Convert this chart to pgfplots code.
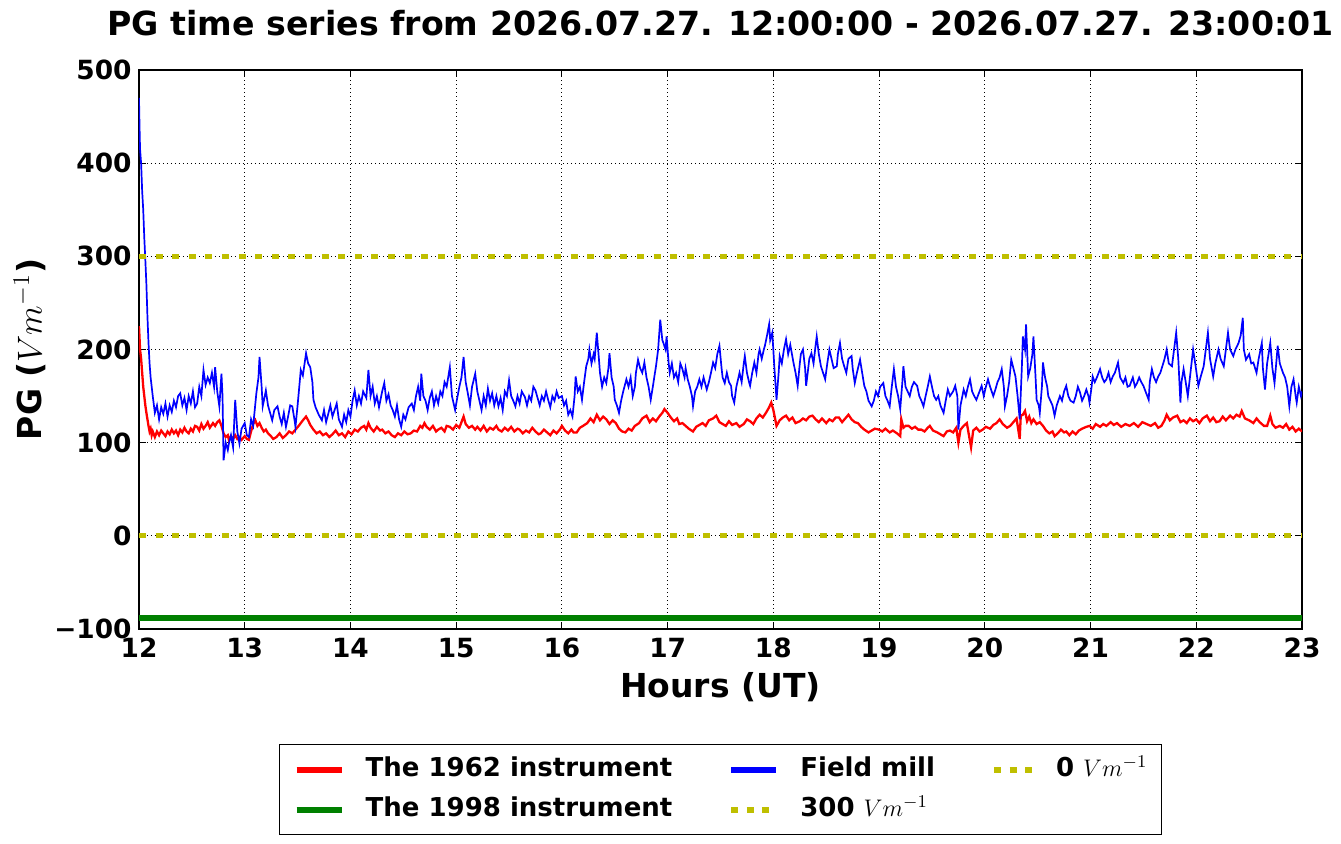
\documentclass[border=0pt]{standalone}
\usepackage{fontspec}
\setmainfont{DejaVu Sans}
\usepackage{pgfplots}
\usepackage{pgfplotstable}
\pgfplotsset{compat=1.18}
\definecolor{mplred}{RGB}{255,0,0}
\definecolor{mplblue}{RGB}{0,0,255}
\definecolor{mplgreen}{RGB}{0,128,0}
\definecolor{mplyellow}{RGB}{191,191,0}
\pgfplotsset{
  long legend/.style={legend image code/.code={\draw[##1] (0pt,0pt) -- (22.5pt,0pt);}},
  short legend/.style={legend image code/.code={\draw[##1] (0pt,0pt) -- (19pt,0pt);}},
}

\pgfplotstableread{
h v
12.00 470
12.005 440
12.01 415
12.02 400
12.03 370
12.04 350
12.05 320
12.06 296
12.07 270
12.08 235
12.09 207
12.10 185
12.11 170
12.13 150
12.15 132
12.17 140
12.19 125
12.21 138
12.23 131
12.25 142
12.27 128
12.29 140
12.31 133
12.33 145
12.35 138
12.37 150
12.39 153
12.41 140
12.43 148
12.45 135
12.47 150
12.49 142
12.51 155
12.53 138
12.55 142
12.57 160
12.59 150
12.61 178
12.63 162
12.65 170
12.67 164
12.69 175
12.71 160
12.72 181
12.74 155
12.76 139
12.78 174
12.79 150
12.80 81
12.82 100
12.84 92
12.85 99
12.87 108
12.89 95
12.91 146
12.93 112
12.95 99
12.97 115
13.00 121
13.02 108
13.04 106
13.06 125
13.08 118
13.11 153
13.13 170
13.14 192
13.16 160
13.17 139
13.19 150
13.20 156
13.22 140
13.24 132
13.26 124
13.28 135
13.31 139
13.33 128
13.35 120
13.37 132
13.39 117
13.41 128
13.43 140
13.45 139
13.47 125
13.48 117
13.50 140
13.52 165
13.53 178
13.55 172
13.58 196
13.60 185
13.62 181
13.64 165
13.65 146
13.67 138
13.70 130
13.73 124
13.75 135
13.77 122
13.79 131
13.81 140
13.83 128
13.85 135
13.87 142
13.89 125
13.92 117
13.94 130
13.96 122
13.98 135
14.00 128
14.02 145
14.04 156
14.06 140
14.08 150
14.10 142
14.12 155
14.15 148
14.17 178
14.19 150
14.21 160
14.23 142
14.25 150
14.27 138
14.30 155
14.32 164
14.34 145
14.36 152
14.38 140
14.40 135
14.42 128
14.44 140
14.46 125
14.48 117
14.50 130
14.52 125
14.55 138
14.58 142
14.60 135
14.62 150
14.64 160
14.66 145
14.67 174
14.69 150
14.71 145
14.73 135
14.75 148
14.77 155
14.79 140
14.81 150
14.83 142
14.85 155
14.87 150
14.89 165
14.91 160
14.94 181
14.96 150
14.99 135
15.01 148
15.03 160
15.05 170
15.07 192
15.09 165
15.11 153
15.13 140
15.15 160
15.18 174
15.20 155
15.22 145
15.24 135
15.26 150
15.28 140
15.30 158
15.32 145
15.34 153
15.36 140
15.38 150
15.40 139
15.42 148
15.44 135
15.46 155
15.48 150
15.50 167
15.52 150
15.54 145
15.56 139
15.58 150
15.60 142
15.62 155
15.65 149
15.67 140
15.69 150
15.71 145
15.73 160
15.75 156
15.77 148
15.79 140
15.81 150
15.83 145
15.85 155
15.87 146
15.89 138
15.91 150
15.93 145
15.95 155
15.97 148
16.00 150
16.02 140
16.04 145
16.06 130
16.08 135
16.10 128
16.12 150
16.13 171
16.15 155
16.17 160
16.19 146
16.21 165
16.23 182
16.25 190
16.26 200
16.28 185
16.30 195
16.31 190
16.33 218
16.35 190
16.36 175
16.38 160
16.40 170
16.42 164
16.44 180
16.45 196
16.47 170
16.49 160
16.50 146
16.52 140
16.54 132
16.56 145
16.58 155
16.61 168
16.63 160
16.65 170
16.67 150
16.69 160
16.70 175
16.72 189
16.74 180
16.76 175
16.78 186
16.80 170
16.82 160
16.84 146
16.86 160
16.88 175
16.89 182
16.91 200
16.93 232
16.95 210
16.96 207
16.98 200
16.99 214
17.01 185
17.02 175
17.04 185
17.06 170
17.08 175
17.10 165
17.12 185
17.14 179
17.16 170
17.17 180
17.19 168
17.21 160
17.23 150
17.24 139
17.26 155
17.28 160
17.30 168
17.32 160
17.34 170
17.37 157
17.39 165
17.41 175
17.43 186
17.45 180
17.47 195
17.49 204
17.51 180
17.52 170
17.54 164
17.56 175
17.58 165
17.60 161
17.61 150
17.63 143
17.65 160
17.67 170
17.68 175
17.70 165
17.72 185
17.73 193
17.75 175
17.77 165
17.78 161
17.80 175
17.82 186
17.84 175
17.86 195
17.87 200
17.89 190
17.91 200
17.92 204
17.94 215
17.96 227
17.97 210
17.99 218
18.01 180
18.03 146
18.05 175
18.06 193
18.08 185
18.10 200
18.12 211
18.14 195
18.16 205
18.19 186
18.21 175
18.23 161
18.25 185
18.26 195
18.28 200
18.30 180
18.31 161
18.33 180
18.34 190
18.36 196
18.38 185
18.40 205
18.41 214
18.43 195
18.45 182
18.47 175
18.49 168
18.51 185
18.53 200
18.55 190
18.57 180
18.60 182
18.61 195
18.63 207
18.65 190
18.67 182
18.69 175
18.71 190
18.74 193
18.75 180
18.77 164
18.79 175
18.82 189
18.84 175
18.86 161
18.88 155
18.90 145
18.93 139
18.95 145
18.97 155
18.99 150
19.01 160
19.04 164
19.06 150
19.08 145
19.10 139
19.12 160
19.14 179
19.16 160
19.18 150
19.20 136
19.22 165
19.23 182
19.25 160
19.27 155
19.29 150
19.31 160
19.33 165
19.36 161
19.38 150
19.40 145
19.42 139
19.44 150
19.46 160
19.48 171
19.50 160
19.52 150
19.54 146
19.56 150
19.58 140
19.61 132
19.63 145
19.65 157
19.67 150
19.70 155
19.72 161
19.74 150
19.75 114
19.77 140
19.80 157
19.82 150
19.84 160
19.86 168
19.88 155
19.90 150
19.92 146
19.95 155
19.97 161
19.99 150
20.01 160
20.03 168
20.05 160
20.08 150
20.10 157
20.12 165
20.14 170
20.16 179
20.18 160
20.19 139
20.21 150
20.23 165
20.25 189
20.27 180
20.29 171
20.31 150
20.33 125
20.35 180
20.36 214
20.38 200
20.39 227
20.40 200
20.41 171
20.43 180
20.45 195
20.46 214
20.48 170
20.49 146
20.51 140
20.52 132
20.54 160
20.55 186
20.57 170
20.59 160
20.60 150
20.62 145
20.64 140
20.66 129
20.68 140
20.71 150
20.73 145
20.75 155
20.77 161
20.79 150
20.81 145
20.84 143
20.86 150
20.88 160
20.90 154
20.92 145
20.94 150
20.96 157
20.98 150
20.99 143
21.01 160
21.02 171
21.04 165
21.06 170
21.09 179
21.11 170
21.13 165
21.15 168
21.17 175
21.19 165
21.21 171
21.23 175
21.26 186
21.28 170
21.31 164
21.33 170
21.35 160
21.37 161
21.40 170
21.42 160
21.44 164
21.46 170
21.48 165
21.50 161
21.52 155
21.55 146
21.56 165
21.58 179
21.60 170
21.62 165
21.64 171
21.66 175
21.69 186
21.70 190
21.72 200
21.74 185
21.77 182
21.79 200
21.81 218
21.83 190
21.85 143
21.86 165
21.88 179
21.90 165
21.92 150
21.94 170
21.97 200
21.99 185
22.02 161
22.04 170
22.07 182
22.09 200
22.11 218
22.13 190
22.16 171
22.18 185
22.21 200
22.23 190
22.26 182
22.28 200
22.30 218
22.32 200
22.35 193
22.37 200
22.40 207
22.42 215
22.44 234
22.45 200
22.47 189
22.50 195
22.52 185
22.54 186
22.57 175
22.59 190
22.62 207
22.63 180
22.65 157
22.67 185
22.70 207
22.72 180
22.74 164
22.76 190
22.77 204
22.79 185
22.82 175
22.84 170
22.86 160
22.88 139
22.90 160
22.92 168
22.94 150
22.95 143
22.97 160
22.99 150
23.00 155
}\bluedata

\pgfplotstableread{
h v
12.00 225
12.01 200
12.02 190
12.03 175
12.04 160
12.05 150
12.06 140
12.07 132
12.08 125
12.09 118
12.10 112
12.11 115
12.12 108
12.13 112
12.15 106
12.17 112
12.19 108
12.21 113
12.23 110
12.25 107
12.27 112
12.29 109
12.31 114
12.33 110
12.35 113
12.37 108
12.39 114
12.41 111
12.43 116
12.45 112
12.47 110
12.49 115
12.51 112
12.53 118
12.55 117
12.57 113
12.59 120
12.61 115
12.63 118
12.65 122
12.67 116
12.70 121
12.72 118
12.74 122
12.76 124
12.78 118
12.80 110
12.82 106
12.84 108
12.85 103
12.87 107
12.89 104
12.91 108
12.93 104
12.95 106
12.97 103
13.00 107
13.02 104
13.04 103
13.06 112
13.08 120
13.10 124
13.12 118
13.14 121
13.16 116
13.18 112
13.20 114
13.22 110
13.24 108
13.27 104
13.30 106
13.33 110
13.36 105
13.39 108
13.42 112
13.45 110
13.48 114
13.51 118
13.53 121
13.55 124
13.58 128
13.60 124
13.62 119
13.65 114
13.68 110
13.71 112
13.74 108
13.77 110
13.80 106
13.83 109
13.86 113
13.89 108
13.92 110
13.95 106
13.98 112
14.01 109
14.04 114
14.07 112
14.10 116
14.13 118
14.15 114
14.17 121
14.19 116
14.22 112
14.25 117
14.28 113
14.30 114
14.33 110
14.36 112
14.39 108
14.42 106
14.45 110
14.48 108
14.51 112
14.54 109
14.57 110
14.60 113
14.63 112
14.66 118
14.68 116
14.70 121
14.72 117
14.75 114
14.78 118
14.81 112
14.83 114
14.86 116
14.89 112
14.91 118
14.94 117
14.97 114
15.00 119
15.03 116
15.05 122
15.07 128
15.09 120
15.12 116
15.15 118
15.18 114
15.20 117
15.23 113
15.26 118
15.29 112
15.32 116
15.35 114
15.38 118
15.40 114
15.43 112
15.46 116
15.49 113
15.52 117
15.55 112
15.58 115
15.60 114
15.63 110
15.66 113
15.69 111
15.72 116
15.75 112
15.78 109
15.80 110
15.83 114
15.86 111
15.89 108
15.92 113
15.95 110
15.98 114
16.00 118
16.03 113
16.06 110
16.09 114
16.11 111
16.14 111
16.17 116
16.20 118
16.24 121
16.27 126
16.30 122
16.33 130
16.36 124
16.39 128
16.42 125
16.45 120
16.48 124
16.51 121
16.54 115
16.57 112
16.60 111
16.63 115
16.66 113
16.69 118
16.73 121
16.76 126
16.80 129
16.83 122
16.86 126
16.89 123
16.92 128
16.95 132
16.97 136
17.00 132
17.03 127
17.06 123
17.09 126
17.11 120
17.14 121
17.17 118
17.20 115
17.24 112
17.27 117
17.30 119
17.33 121
17.36 118
17.39 124
17.43 126
17.46 129
17.49 122
17.52 120
17.55 118
17.58 123
17.61 119
17.65 121
17.68 117
17.72 120
17.75 125
17.78 123
17.81 120
17.84 126
17.87 130
17.90 127
17.93 132
17.96 138
17.98 143
18.00 135
18.03 118
18.06 124
18.09 127
18.12 129
18.15 124
18.18 127
18.21 121
18.25 123
18.28 126
18.31 124
18.34 128
18.37 129
18.40 125
18.43 122
18.46 126
18.50 121
18.53 125
18.56 123
18.59 127
18.62 127
18.65 122
18.68 126
18.71 130
18.74 125
18.77 122
18.80 121
18.83 117
18.86 114
18.90 111
18.93 113
18.96 115
19.00 114
19.03 112
19.06 115
19.10 111
19.13 113
19.17 110
19.20 107
19.21 125
19.23 116
19.25 118
19.28 118
19.31 115
19.34 117
19.37 114
19.40 114
19.43 112
19.46 116
19.48 118
19.51 113
19.55 111
19.58 109
19.61 107
19.64 112
19.67 113
19.70 111
19.73 116
19.75 100
19.77 114
19.80 118
19.83 121
19.85 108
19.87 95
19.89 113
19.92 116
19.95 112
19.98 114
20.01 117
20.05 115
20.08 119
20.11 121
20.14 125
20.17 120
20.21 116
20.24 118
20.27 122
20.30 126
20.33 104
20.34 129
20.36 130
20.38 134
20.40 123
20.42 128
20.44 121
20.46 125
20.49 120
20.52 122
20.55 118
20.58 113
20.61 110
20.64 112
20.66 107
20.69 110
20.72 114
20.75 111
20.77 112
20.80 108
20.83 112
20.86 109
20.89 113
20.92 115
20.96 117
20.99 118
21.02 115
21.05 120
21.09 117
21.12 120
21.15 118
21.19 122
21.22 119
21.25 121
21.29 117
21.33 120
21.37 118
21.41 121
21.45 117
21.49 122
21.53 120
21.57 118
21.61 121
21.64 116
21.67 118
21.70 124
21.72 130
21.75 124
21.78 127
21.82 129
21.85 122
21.88 124
21.91 121
21.94 126
21.97 123
22.00 125
22.03 121
22.06 126
22.10 129
22.13 123
22.16 127
22.19 122
22.22 123
22.25 128
22.28 124
22.32 129
22.35 126
22.38 130
22.41 128
22.43 134
22.46 126
22.50 124
22.54 121
22.57 126
22.60 122
22.64 118
22.67 118
22.70 129
22.72 120
22.75 116
22.79 118
22.82 116
22.85 120
22.88 114
22.91 117
22.94 112
22.97 115
23.00 112
}\reddata

\begin{document}
\begin{tikzpicture}
\path[use as bounding box] (-69.5pt,-107.5pt) rectangle (601pt,314.5pt);
\begin{axis}[
  at={(0pt,0pt)}, anchor=south west,
  scale only axis, width=581.5pt, height=279.5pt,
  xmin=12, xmax=23, ymin=-100, ymax=500,
  xtick={12,13,14,15,16,17,18,19,20,21,22,23},
  xticklabels={12,13,14,15,16,17,18,19,20,21,22,23},
  ytick={-100,0,100,200,300,400,500},
  yticklabels={−100,0,100,200,300,400,500},
  tick align=inside, major tick length=3.5pt,
  tick style={black, line width=0.5pt},
  grid=major,
  major grid style={black, line width=0.5pt, dash pattern=on 0.5pt off 1.5pt},
  axis line style={black, line width=0.6pt},
  ticklabel style={font=\fontsize{13.2}{15}\selectfont\bfseries},
  xticklabel style={inner sep=0pt, anchor=north, yshift=-4.5pt},
  yticklabel style={inner sep=0pt, anchor=east, xshift=-3.5pt},
  legend columns=3,
  legend cell align=left,
  long legend,
  legend style={
    at={(0.5,-0.2057)}, anchor=north,
    draw=black, line width=0.6pt,
    font=\fontsize{13}{15}\selectfont\bfseries,
    inner xsep=7pt, inner ysep=6pt,
    row sep=7pt,
    nodes={inner sep=0pt, text height=10pt, text depth=3pt},
    /tikz/every odd column/.append style={column sep=10.5pt},
    /tikz/every even column/.append style={column sep=28pt},
  },
]
\addplot[mplred, line width=1.15pt, forget plot] table[x=h, y=v] {\reddata};
\addplot[mplgreen, line width=3pt, forget plot] coordinates {(12,-88) (23,-88)};
\addplot[mplblue, line width=0.85pt, forget plot] table[x=h, y=v] {\bluedata};
\addplot[mplyellow, line width=2.5pt, dash pattern=on 3.5pt off 4.8pt, forget plot] coordinates {(12,300) (23,300)};
\addplot[mplyellow, line width=2.5pt, dash pattern=on 3.5pt off 4.8pt, forget plot] coordinates {(12,0) (23,0)};

\addlegendimage{mplred, line width=3pt}
\addlegendentry{The 1962 instrument}
\addlegendimage{mplblue, line width=3pt}
\addlegendentry{Field mill}
\addlegendimage{mplyellow, line width=3pt, dash pattern=on 3.5pt off 4.25pt, short legend}
\addlegendentry{0 $Vm^{-1}$}
\addlegendimage{mplgreen, line width=3pt}
\addlegendentry{The 1998 instrument}
\addlegendimage{mplyellow, line width=3pt, dash pattern=on 3.5pt off 4.25pt, short legend}
\addlegendentry{300 $Vm^{-1}$}
\end{axis}
\node[anchor=base, font=\fontsize{16.6}{20}\selectfont\bfseries, inner sep=0pt] at (290.75pt,296.5pt)
  {PG time series from 2026.07.27. 12:00:00 - 2026.07.27. 23:00:01};
\node[anchor=base, font=\fontsize{16.5}{20}\selectfont\bfseries, inner sep=0pt] at (290.75pt,-34.5pt)
  {Hours (UT)};
\node[anchor=base, rotate=90, font=\fontsize{16.5}{20}\selectfont\bfseries, inner sep=0pt] at (-48.65pt,139.75pt)
  {PG ($Vm^{-1}$)};
\end{tikzpicture}
\end{document}
